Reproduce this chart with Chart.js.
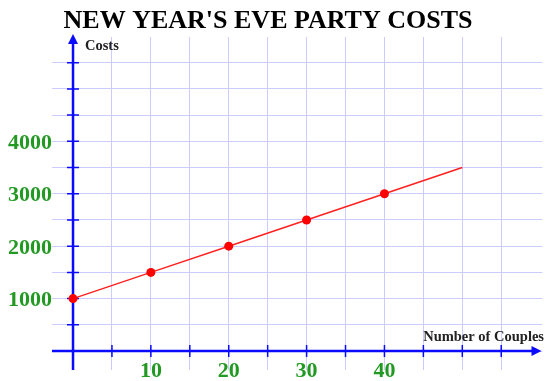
<!DOCTYPE html>
<html>
<head>
<meta charset="utf-8">
<script src="https://cdn.jsdelivr.net/npm/chart.js@4/dist/chart.umd.min.js"></script>
<style>
  html, body { margin: 0; padding: 0; background: #fff; }
  #wrap { width: 547px; height: 381px; position: relative; }
</style>
</head>
<body>
<div id="wrap"><canvas id="chart" width="547" height="381"></canvas></div>
<script>
// data
const couples = [0, 10, 20, 30, 40, 50];
const costs = [1000, 1500, 2000, 2500, 3000, 3500];
const xLabels = [10, 20, 30, 40];
const yLabels = [1000, 2000, 3000, 4000];
const xGrid = [0, 5, 10, 15, 20, 25, 30, 35, 40, 45, 50, 55];
const yGrid = [0, 500, 1000, 1500, 2000, 2500, 3000, 3500, 4000, 4500, 5000, 5500];

const title = "NEW YEAR'S EVE PARTY COSTS";
const yTitle = "Costs";
const xTitle = "Number of Couples";

const BLUE = "#0a0aff";
const GREEN = "#229922";
const serif = '"Liberation Serif", "DejaVu Serif", serif';

// axes with arrows, drawn under the red line
const axesPlugin = {
  id: "axes",
  beforeDatasetsDraw(chart) {
    const ctx = chart.ctx;
    const xs = chart.scales.x, ys = chart.scales.y;
    const area = chart.chartArea;
    const x0 = xs.getPixelForValue(0);
    const y0 = ys.getPixelForValue(0);
    ctx.save();
    ctx.strokeStyle = BLUE;
    ctx.fillStyle = BLUE;
    ctx.lineWidth = 2.5;
    // y axis
    ctx.beginPath();
    ctx.moveTo(x0, area.bottom);
    ctx.lineTo(x0, area.top + 6);
    ctx.stroke();
    ctx.beginPath();
    ctx.moveTo(x0, area.top - 3);
    ctx.lineTo(x0 - 5, area.top + 7);
    ctx.lineTo(x0 + 5, area.top + 7);
    ctx.closePath();
    ctx.fill();
    // x axis
    ctx.beginPath();
    ctx.moveTo(area.left, y0);
    ctx.lineTo(area.right - 6, y0);
    ctx.stroke();
    ctx.beginPath();
    ctx.moveTo(area.right - 1, y0);
    ctx.lineTo(area.right - 11, y0 - 5);
    ctx.lineTo(area.right - 11, y0 + 5);
    ctx.closePath();
    ctx.fill();
    // tick marks
    ctx.lineWidth = 1.5;
    ctx.beginPath();
    xGrid.slice(1).forEach(v => {
      const p = xs.getPixelForValue(v);
      ctx.moveTo(p, y0 - 6);
      ctx.lineTo(p, y0 + 6);
    });
    yGrid.slice(1).forEach(v => {
      const p = ys.getPixelForValue(v);
      ctx.moveTo(x0 - 6, p);
      ctx.lineTo(x0 + 6, p);
    });
    ctx.stroke();
    ctx.restore();
  },
  afterDraw(chart) {
    const ctx = chart.ctx;
    const xs = chart.scales.x, ys = chart.scales.y;
    ctx.save();
    ctx.fillStyle = GREEN;
    ctx.font = "bold 22px " + serif;
    ctx.textAlign = "right";
    ctx.textBaseline = "middle";
    yLabels.forEach(v => ctx.fillText(String(v), 52, ys.getPixelForValue(v) + 2));
    ctx.textAlign = "center";
    xLabels.forEach(v => ctx.fillText(String(v), xs.getPixelForValue(v), 371));
    ctx.fillStyle = "#000";
    ctx.font = "bold 26px " + serif;
    ctx.fillText(title, 268, 21);
    ctx.fillStyle = "#222";
    ctx.font = "bold 14.5px " + serif;
    ctx.textAlign = "left";
    ctx.fillText(yTitle, 85, 46);
    ctx.textAlign = "right";
    ctx.fillText(xTitle, 544, 337);
    ctx.restore();
  }
};

const gridOpts = {
  color: "#ccccff",
  lineWidth: 1,
  drawTicks: false
};

new Chart(document.getElementById("chart"), {
  type: "scatter",
  data: {
    datasets: [{
      data: couples.map((c, i) => ({ x: c, y: costs[i] })),
      showLine: true,
      borderColor: "#ff2020",
      borderWidth: 1.5,
      backgroundColor: "#ff0000",
      pointBackgroundColor: "#ff0000",
      pointBorderWidth: 0,
      pointRadius: ctx => (ctx.dataIndex === couples.length - 1 ? 0 : 4.5)
    }]
  },
  options: {
    responsive: false,
    animation: false,
    layout: { padding: { left: 52, right: 0, top: 37, bottom: 11 } },
    plugins: { legend: { display: false }, tooltip: { enabled: false }, title: { display: false } },
    scales: {
      x: {
        type: "linear",
        min: -2.7,
        max: 60.3,
        afterBuildTicks: s => { s.ticks = xGrid.map(v => ({ value: v })); },
        ticks: { display: false },
        grid: gridOpts,
        border: { display: false }
      },
      y: {
        type: "linear",
        min: -362,
        max: 5990,
        afterBuildTicks: s => { s.ticks = yGrid.map(v => ({ value: v })); },
        ticks: { display: false },
        grid: gridOpts,
        border: { display: false }
      }
    }
  },
  plugins: [axesPlugin]
});
</script>
</body>
</html>
